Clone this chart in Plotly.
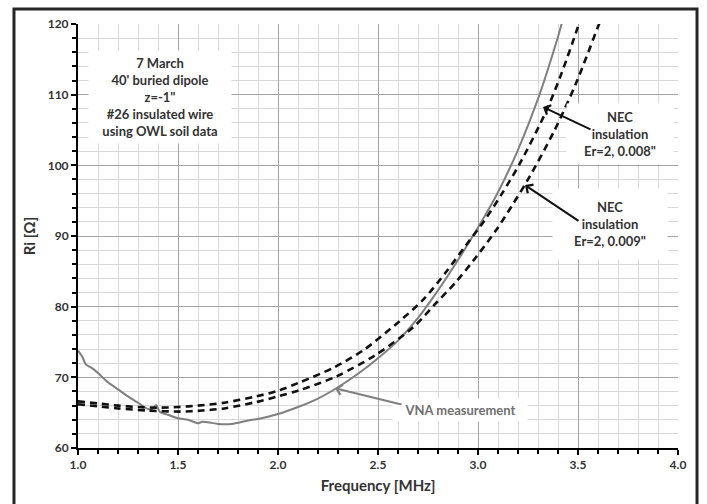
import plotly.graph_objects as go

# VNA measurement of input resistance (MHz, ohms)
vna_freq = [1.00, 1.02, 1.04, 1.07, 1.10, 1.15, 1.20, 1.25, 1.30, 1.35, 1.37, 1.39,
            1.41, 1.45, 1.50, 1.55, 1.60, 1.62, 1.66, 1.70, 1.77, 1.85, 1.90, 2.00,
            2.10, 2.20, 2.30, 2.40, 2.50, 2.60, 2.70, 2.80, 2.90, 3.00, 3.10, 3.20,
            3.30, 3.40, 3.42]
vna_ri = [73.8, 73.0, 71.8, 71.3, 70.6, 69.3, 68.3, 67.3, 66.4, 65.5, 65.5, 66.1,
          65.1, 64.7, 64.2, 64.0, 63.5, 63.7, 63.6, 63.4, 63.4, 63.9, 64.1, 64.8,
          65.8, 67.0, 68.6, 70.5, 72.7, 75.2, 78.4, 82.3, 86.6, 91.2, 96.2, 102.2,
          109.4, 118.2, 120.2]

# NEC model, insulation Er=2, 0.008"
nec008_freq = [1.00, 1.10, 1.20, 1.30, 1.40, 1.50, 1.60, 1.73, 1.89, 2.00, 2.11,
               2.28, 2.43, 2.61, 2.73, 2.84, 2.94, 3.03, 3.12, 3.21, 3.34, 3.42,
               3.49, 3.51]
nec008_ri = [66.6, 66.3, 66.0, 65.8, 65.7, 65.8, 66.0, 66.4, 67.3, 68.1, 69.3,
             71.4, 73.9, 78.0, 81.1, 84.9, 88.7, 92.1, 96.0, 100.3, 107.6, 113.2,
             118.8, 120.5]

# NEC model, insulation Er=2, 0.009"
nec009_freq = [1.00, 1.10, 1.20, 1.35, 1.51, 1.62, 1.73, 1.89, 2.00, 2.11, 2.29,
               2.49, 2.68, 2.79, 2.89, 2.99, 3.09, 3.17, 3.25, 3.38, 3.49, 3.60,
               3.62]
nec009_ri = [66.2, 65.9, 65.6, 65.3, 65.15, 65.3, 65.6, 66.5, 67.3, 68.2, 70.1,
             73.2, 77.2, 80.5, 83.5, 87.0, 90.8, 94.3, 98.0, 104.8, 111.6, 119.6,
             121.0]

x_ticks = [1.0, 1.5, 2.0, 2.5, 3.0, 3.5, 4.0]
y_ticks = [60, 70, 80, 90, 100, 110, 120]

info_lines = ["7 March", "40' buried dipole", "z=-1\"", "#26 insulated wire",
              "using OWL soil data"]

FONT = "Lato"
TXT = "#333333"


def bold_lines(lines):
    return "<br>".join("<b>%s</b>" % s for s in lines)


fig = go.Figure()
fig.add_trace(go.Scatter(x=vna_freq, y=vna_ri, mode="lines",
                         line=dict(color="#7f7f7f", width=2, shape="spline",
                                   smoothing=0.5),
                         showlegend=False))
fig.add_trace(go.Scatter(x=nec008_freq, y=nec008_ri, mode="lines",
                         line=dict(color="#111111", width=2.6, dash="7px,5px",
                                   shape="spline", smoothing=0.8),
                         showlegend=False))
fig.add_trace(go.Scatter(x=nec009_freq, y=nec009_ri, mode="lines",
                         line=dict(color="#111111", width=2.6, dash="7px,5px",
                                   shape="spline", smoothing=0.8),
                         showlegend=False))

annotations = [
    # info box
    dict(x=1.41, y=109.6, xref="x", yref="y", showarrow=False,
         text=bold_lines(info_lines),
         font=dict(family=FONT, size=13, color=TXT), bgcolor="white",
         width=140, height=90, align="center"),
    # NEC 0.008 label + arrow
    dict(x=3.71, y=104.4, xref="x", yref="y", showarrow=False,
         text=bold_lines(["NEC", "insulation", "Er=2, 0.008\""]),
         font=dict(family=FONT, size=13, color=TXT), bgcolor="white",
         width=104, height=58, align="center"),
    dict(x=3.325, y=108.25, ax=3.57, ay=105.0, xref="x", yref="y",
         axref="x", ayref="y", text="", showarrow=True, arrowhead=4,
         arrowsize=1, arrowwidth=2, arrowcolor="#111111", standoff=0),
    # NEC 0.009 label + arrow
    dict(x=3.66, y=91.7, xref="x", yref="y", showarrow=False,
         text=bold_lines(["NEC", "insulation", "Er=2, 0.009\""]),
         font=dict(family=FONT, size=13, color=TXT), bgcolor="white",
         width=112, height=68, align="center"),
    dict(x=3.235, y=97.2, ax=3.51, ay=92.0, xref="x", yref="y",
         axref="x", ayref="y", text="", showarrow=True, arrowhead=4,
         arrowsize=1, arrowwidth=2, arrowcolor="#111111", standoff=0),
    # VNA label + arrow
    dict(x=2.91, y=65.35, xref="x", yref="y", showarrow=False,
         text="<b>VNA measurement</b>",
         font=dict(family=FONT, size=13, color="#707070"), bgcolor="white",
         width=132, height=20, align="center"),
    dict(x=2.285, y=68.45, ax=2.625, ay=66.1, xref="x", yref="y",
         axref="x", ayref="y", text="", showarrow=True, arrowhead=4,
         arrowsize=1, arrowwidth=2, arrowcolor="#7f7f7f", standoff=0),
]

fig.update_layout(
    width=707, height=504,
    margin=dict(l=78, r=29, t=24, b=56),
    paper_bgcolor="white", plot_bgcolor="white",
    font=dict(family=FONT, color=TXT),
    annotations=annotations,
    shapes=[dict(type="rect", xref="paper", yref="paper",
                 x0=-0.1067, x1=1.0317, y0=-0.1368, y1=1.0354,
                 line=dict(color="#262626", width=3), layer="above")],
)

fig.update_xaxes(
    range=[1.0, 4.0], tickvals=x_ticks,
    ticktext=["<b>%.1f</b>" % v for v in x_ticks],
    showgrid=True, gridcolor="#a4a4a4", gridwidth=1.2,
    showline=True, linecolor="black", linewidth=2,
    ticks="outside", ticklen=5, tickcolor="black", tickwidth=1.5,
    tickfont=dict(family=FONT, size=12, color=TXT),
    minor=dict(dtick=0.1, showgrid=True, gridcolor="#d8d8d8", gridwidth=1,
               ticks="outside", ticklen=4, tickcolor="black", tickwidth=1.5),
    title=dict(text="<b>Frequency [MHz]</b>",
               font=dict(family=FONT, size=15, color=TXT), standoff=9),
    zeroline=False,
)
fig.update_yaxes(
    range=[60, 120], tickvals=y_ticks,
    ticktext=["<b>%d</b>" % v for v in y_ticks],
    showgrid=True, gridcolor="#a4a4a4", gridwidth=1.2,
    showline=True, linecolor="black", linewidth=2,
    ticks="outside", ticklen=5, tickcolor="black", tickwidth=1.5,
    tickfont=dict(family=FONT, size=12, color=TXT),
    minor=dict(dtick=2, showgrid=True, gridcolor="#d8d8d8", gridwidth=1,
               ticks="outside", ticklen=4, tickcolor="black", tickwidth=1.5),
    title=dict(text="<b>Ri [Ω]</b>",
               font=dict(family=FONT, size=15, color=TXT), standoff=8),
    zeroline=False,
)

fig.write_html("out.html")
